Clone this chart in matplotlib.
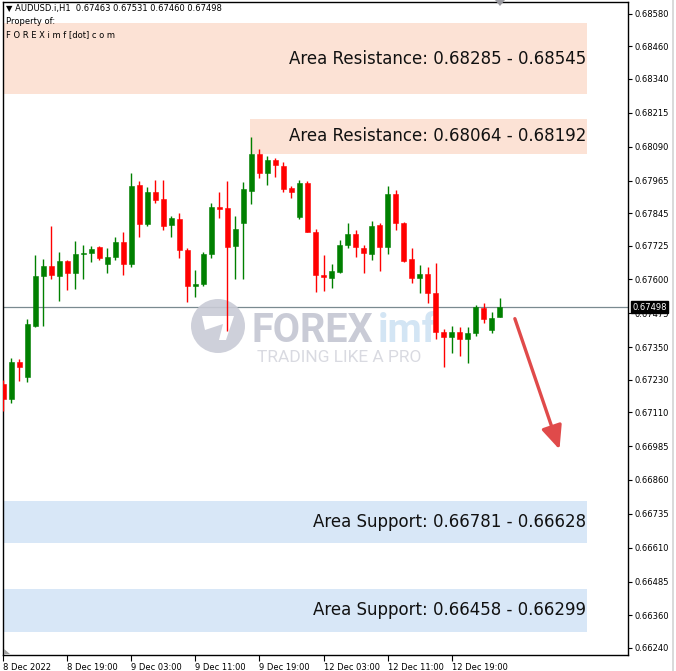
import matplotlib
matplotlib.use("Agg")
import matplotlib.pyplot as plt
from matplotlib.patches import Rectangle, Circle, Polygon, FancyArrowPatch
from matplotlib.transforms import IdentityTransform

W, H = 676, 671

symbol = "AUDUSD.i,H1"
header_ohlc = ["0.67463", "0.67531", "0.67460", "0.67498"]

opens = [0.67214, 0.67159, 0.67296, 0.67240, 0.67428, 0.67613, 0.67650, 0.67613, 0.67668, 0.67624,
         0.67694, 0.67698, 0.67720, 0.67657, 0.67683, 0.67738, 0.67657, 0.67949, 0.67805, 0.67923,
         0.67897, 0.67801, 0.67823, 0.67709, 0.67576, 0.67583, 0.67694, 0.67868, 0.67864, 0.67724,
         0.67809, 0.67927, 0.68063, 0.67993, 0.68041, 0.68019, 0.67938, 0.67831, 0.67956, 0.67775,
         0.67617, 0.67606, 0.67628, 0.67727, 0.67768, 0.67716, 0.67694, 0.67801, 0.67720, 0.67916,
         0.67809, 0.67676, 0.67606, 0.67620, 0.67550, 0.67406, 0.67388, 0.67406, 0.67380, 0.67403,
         0.67495, 0.67414, 0.67463]
highs = [0.67229, 0.67310, 0.67307, 0.67454, 0.67690, 0.67676, 0.67798, 0.67702, 0.67672, 0.67742,
         0.67727, 0.67724, 0.67724, 0.67716, 0.67757, 0.67775, 0.67993, 0.67964, 0.67941, 0.67967,
         0.67967, 0.67834, 0.67845, 0.67716, 0.67635, 0.67702, 0.67882, 0.67923, 0.67964, 0.67834,
         0.67960, 0.68126, 0.68082, 0.68056, 0.68049, 0.68034, 0.67945, 0.67967, 0.67964, 0.67786,
         0.67690, 0.67657, 0.67746, 0.67809, 0.67783, 0.67727, 0.67816, 0.67809, 0.67945, 0.67930,
         0.67812, 0.67716, 0.67654, 0.67646, 0.67661, 0.67417, 0.67428, 0.67425, 0.67425, 0.67506,
         0.67513, 0.67480, 0.67531]
lows = [0.67115, 0.67144, 0.67225, 0.67222, 0.67425, 0.67428, 0.67602, 0.67521, 0.67561, 0.67565,
        0.67602, 0.67665, 0.67672, 0.67624, 0.67672, 0.67617, 0.67646, 0.67757, 0.67798, 0.67882,
        0.67783, 0.67757, 0.67679, 0.67517, 0.67535, 0.67576, 0.67679, 0.67827, 0.67410, 0.67602,
        0.67602, 0.67879, 0.67975, 0.67949, 0.67978, 0.67923, 0.67901, 0.67823, 0.67775, 0.67554,
        0.67558, 0.67569, 0.67624, 0.67716, 0.67683, 0.67624, 0.67672, 0.67631, 0.67694, 0.67783,
        0.67665, 0.67587, 0.67550, 0.67513, 0.67380, 0.67277, 0.67329, 0.67318, 0.67292, 0.67392,
        0.67440, 0.67403, 0.67460]
closes = [0.67159, 0.67296, 0.67277, 0.67436, 0.67613, 0.67650, 0.67617, 0.67668, 0.67624, 0.67694,
          0.67698, 0.67713, 0.67679, 0.67683, 0.67738, 0.67657, 0.67945, 0.67805, 0.67923, 0.67893,
          0.67798, 0.67827, 0.67709, 0.67576, 0.67583, 0.67694, 0.67868, 0.67860, 0.67720, 0.67786,
          0.67934, 0.68063, 0.67993, 0.68041, 0.68023, 0.67934, 0.67923, 0.67956, 0.67775, 0.67617,
          0.67609, 0.67631, 0.67727, 0.67768, 0.67720, 0.67698, 0.67798, 0.67720, 0.67916, 0.67809,
          0.67668, 0.67606, 0.67620, 0.67550, 0.67406, 0.67388, 0.67406, 0.67380, 0.67403, 0.67499,
          0.67454, 0.67458, 0.67498]

x_tick_idx = [0, 8, 16, 24, 32, 40, 48, 56]
x_tick_labels = ["8 Dec 2022", "8 Dec 19:00", "9 Dec 03:00", "9 Dec 11:00", "9 Dec 19:00",
                 "12 Dec 03:00", "12 Dec 11:00", "12 Dec 19:00"]
y_tick_values = [0.68580, 0.68460, 0.68340, 0.68215, 0.68090, 0.67965, 0.67845, 0.67725, 0.67600,
                 0.67475, 0.67350, 0.67230, 0.67110, 0.66985, 0.66860, 0.66735, 0.66610, 0.66485,
                 0.66360, 0.66240]

resistance_zones = [(0.68285, 0.68545), (0.68064, 0.68192)]
support_zones = [(0.66781, 0.66628), (0.66458, 0.66299)]
current_price = 0.67498

GREEN = "#008000"
RED = "#FF0000"
RES_COLOR = "#FCE2D5"
SUP_COLOR = "#D8E7F7"

fig = plt.figure(figsize=(W / 100, H / 100), dpi=100)
fig.patch.set_facecolor("white")
ax = fig.add_axes([3 / W, (H - 655) / H, (628 - 3) / W, (655 - 2) / H])
x_left, x_right = -0.05, 78.05
y_bot, y_top = 0.66214, 0.68624
ax.set_xlim(x_left, x_right)
ax.set_ylim(y_bot, y_top)

zone_right = 72.95
# zones
zones = [(resistance_zones[0], x_left, RES_COLOR, "Area Resistance"),
         (resistance_zones[1], 30.8, RES_COLOR, "Area Resistance"),
         (support_zones[0], x_left, SUP_COLOR, "Area Support"),
         (support_zones[1], x_left, SUP_COLOR, "Area Support")]
for (a, b), xs, col, name in zones:
    lo, hi = min(a, b), max(a, b)
    ax.add_patch(Rectangle((xs, lo), zone_right - xs, hi - lo, facecolor=col,
                           edgecolor="none", zorder=1))
    ax.text(zone_right - 0.15, (lo + hi) / 2, f"{name}: {a:.5f} - {b:.5f}",
            ha="right", va="center", fontsize=12, color="#111111", zorder=6,
            family="DejaVu Sans")

# current price line
ax.axhline(current_price, color="#7A8A90", lw=0.9, zorder=2)

# watermark
idt = IdentityTransform()
wm = "#C9CBD6"
ax.add_patch(Circle((218, H - 326), 27, facecolor=wm, edgecolor="none", transform=idt,
                    zorder=2, alpha=0.9))
ax.add_patch(Polygon([(202, H - 316), (234, H - 316), (226, H - 340), (219, H - 340),
                      (223, H - 324), (205, H - 330)], closed=True, facecolor="white",
                     edgecolor="none", transform=idt, zorder=2))
fig.text(252 / W, 1 - 342 / H, "FOREX", fontsize=28.5, fontweight="bold", family="Roboto",
         color=wm, ha="left", va="baseline", zorder=0)
fig.text(378 / W, 1 - 342 / H, "imf", fontsize=28.5, fontweight="bold", family="Roboto",
         color="#D3E5F4", ha="left", va="baseline", zorder=0)
fig.text(257 / W, 1 - 362 / H, "TRADING LIKE A PRO", fontsize=12.5, family="Roboto",
         color="#D9DAE1", ha="left", va="baseline", zorder=0)
ax.set_facecolor("none")
ax.set_zorder(1)

# candles
for i, (o, h, l, c) in enumerate(zip(opens, highs, lows, closes)):
    col = GREEN if c >= o else RED
    ax.vlines(i, l, h, color=col, lw=1.0, zorder=4)
    lo = min(o, c)
    hgt = max(abs(c - o), 0.00005)
    ax.bar(i, hgt, bottom=lo, width=0.62, color=col, edgecolor=col, lw=0.4, zorder=5)

# forecast arrow
arrow = FancyArrowPatch((63.8, 0.67465), (69.6, 0.66963),
                        arrowstyle="-|>,head_length=0.95,head_width=0.42",
                        mutation_scale=15, color="#E04A4A", lw=2.4, zorder=7)
ax.add_patch(arrow)

# axes styling
for s in ax.spines.values():
    s.set_color("black")
    s.set_linewidth(1.0)
ax.yaxis.tick_right()
ax.set_yticks(y_tick_values)
ax.set_yticklabels([f"{v:.5f}" for v in y_tick_values])
ax.tick_params(axis="y", direction="out", length=3, width=0.8, pad=2, labelsize=6,
               colors="black")
ax.set_xticks(x_tick_idx)
ax.set_xticklabels(x_tick_labels)
ax.tick_params(axis="x", direction="out", length=4, width=0.8, pad=2, labelsize=6,
               colors="black")
for lbl in ax.get_xticklabels():
    lbl.set_horizontalalignment("left")

# current price tag
ax.annotate(f"{current_price:.5f}", xy=(1.0, current_price), xycoords=("axes fraction", "data"),
            xytext=(3, 0), textcoords="offset points", ha="left", va="center",
            fontsize=6, color="white", zorder=10, annotation_clip=False,
            bbox=dict(boxstyle="square,pad=0.15", facecolor="black", edgecolor="black"))

# header
fig.text(6 / W, 1 - 9 / H, "\u25BC " + symbol + "  " + " ".join(header_ohlc),
         fontsize=6, ha="left", va="center", color="black")
fig.text(6 / W, 1 - 22 / H, "Property of:", fontsize=6, ha="left", va="center", color="black")
fig.text(6 / W, 1 - 35 / H, "F O R E X i m f [dot] c o m", fontsize=6, ha="left",
         va="center", color="black")

# small chart markers
fig.patches.append(Polygon([(495 / W, 1.0), (505 / W, 1.0), (500 / W, 1 - 6 / H)],
                           closed=True, transform=fig.transFigure, facecolor="#9A9AA0",
                           edgecolor="none"))
fig.patches.append(Polygon([(4 / W, 1 - 649 / H), (4 / W, 1 - 654 / H), (10 / W, 1 - 654 / H)],
                           closed=True, transform=fig.transFigure, facecolor="#A0A0A0",
                           edgecolor="none"))
fig.patches.append(Rectangle((672 / W, 0), 2 / W, 1, transform=fig.transFigure,
                             facecolor="#DADADA", edgecolor="none"))

fig.savefig("out.png", dpi=100, facecolor="white")
